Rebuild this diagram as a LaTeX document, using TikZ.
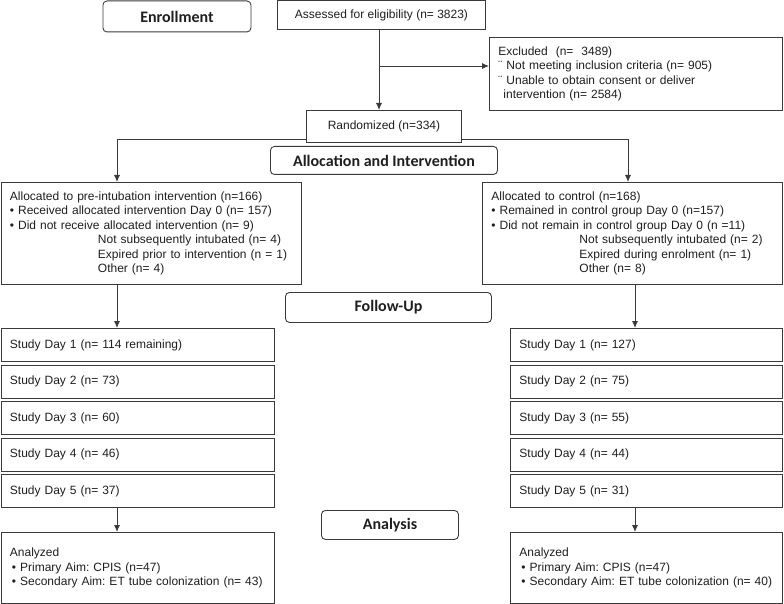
\documentclass[tikz,border=0pt]{standalone}
\usepackage{fontspec}
\setmainfont{Liberation Sans}
\newfontfamily\headfont{Carlito}
\usetikzlibrary{arrows.meta}
\definecolor{linegray}{HTML}{3A3A3A}
\definecolor{inkgray}{HTML}{1E1E1E}
\frenchspacing

\begin{document}
\begin{tikzpicture}[x=1pt, y=-1pt,
    flowbox/.style={draw=linegray, line width=0.9pt, anchor=north west, align=left,
        inner xsep=9pt, inner ysep=0pt, text=inkgray, font=\fontsize{12}{14.5}\selectfont},
    countbox/.style={draw=linegray, line width=0.9pt, anchor=north west, align=center,
        inner sep=0pt, text=inkgray, font=\fontsize{12}{14.5}\selectfont},
    stagebox/.style={draw=linegray, line width=0.9pt, rounded corners=4pt, anchor=north west,
        inner sep=0pt, text=inkgray, font=\headfont\bfseries\fontsize{16}{18}\selectfont},
    arr/.style={draw=linegray, line width=0.9pt, -{Latex[length=7pt,width=6pt]}}]
  \useasboundingbox (0,0) rectangle (784,604);

  % stage headings
  \node[stagebox, minimum width=148pt, minimum height=31pt] (enrol) at (102.5,0.5) {Enrollment};
  \node[stagebox, minimum width=227pt, minimum height=28pt] (alloc) at (270,146) {Allocation and Intervention};
  \node[stagebox, minimum width=206pt, minimum height=30pt] (follow) at (285,292) {Follow-Up};
  \node[stagebox, minimum width=137pt, minimum height=29pt] (analysis) at (321,510) {Analysis};

  % enrollment
  \node[countbox, minimum width=208pt, minimum height=29pt] (assess) at (277,0.5) {Assessed for eligibility (n= 3823)};
  \node[flowbox, text width=275pt, minimum height=73pt] (excl) at (489,37)
    {Excluded\ \ (n=\ \ 3489)\\
     ¨ Not meeting inclusion criteria (n= 905)\\
     ¨ Unable to obtain consent or deliver\\
     \hspace*{5pt}intervention (n= 2584)};
  \node[countbox, minimum width=155pt, minimum height=32pt] (rand) at (306,110) {Randomized (n=334)};

  % allocation
  \node[flowbox, text width=282pt, minimum height=102pt] (allocL) at (0.5,182)
    {Allocated to pre-intubation intervention (n=166)\\
     • Received allocated intervention Day 0 (n= 157)\\
     • Did not receive allocated intervention (n= 9)\\
     \hspace*{88pt}Not subsequently intubated (n= 4)\\
     \hspace*{88pt}Expired prior to intervention (n = 1)\\
     \hspace*{88pt}Other (n= 4)};
  \node[flowbox, text width=282pt, minimum height=102pt] (allocC) at (482,182)
    {Allocated to control (n=168)\\
     • Remained in control group Day 0 (n=157)\\
     • Did not remain in control group Day 0 (n =11)\\
     \hspace*{88pt}Not subsequently intubated (n= 2)\\
     \hspace*{88pt}Expired during enrolment (n= 1)\\
     \hspace*{88pt}Other (n= 8)};

  % follow-up
  \foreach \d/\nl/\nr in {1/114 remaining/127, 2/73/75, 3/60/55, 4/46/44, 5/37/31} {
    \node[flowbox, text width=255pt, minimum height=33pt] (dayL\d) at (0.5,328+36.5*\d-36.5) {Study Day \d\ (n= \nl)};
    \node[flowbox, text width=254pt, minimum height=33pt] (dayR\d) at (510,328+36.5*\d-36.5) {Study Day \d\ (n= \nr)};
  }

  % analysis
  \node[flowbox, text width=255pt, minimum height=71pt] (anaL) at (0.5,532)
    {Analyzed\\
     \hspace*{2pt}• Primary Aim: CPIS (n=47)\\
     \hspace*{2pt}• Secondary Aim: ET tube colonization (n= 43)};
  \node[flowbox, text width=254pt, minimum height=71pt] (anaR) at (510,532)
    {Analyzed\\
     \hspace*{2pt}• Primary Aim: CPIS (n=47)\\
     \hspace*{2pt}• Secondary Aim: ET tube colonization (n= 40)};

  % connectors
  \coordinate (splitX) at (379,66);
  \coordinate (colL) at (117,139);
  \coordinate (colR) at (628,139);
  \coordinate (colR2) at (635,300);
  \draw[arr] (assess.south -| splitX) -- (rand.north -| splitX);
  \draw[arr] (splitX) -- (splitX -| excl.west);
  \draw[arr] (rand.west |- colL) -- (colL) -- (colL |- allocL.north);
  \draw[arr] (rand.east |- colR) -- (colR) -- (colR |- allocC.north);
  \draw[arr] (allocL.south -| colL) -- (dayL1.north -| colL);
  \draw[arr] (allocC.south -| colR2) -- (dayR1.north -| colR2);
  \draw[arr] (dayL5.south -| colL) -- (anaL.north -| colL);
  \draw[arr] (dayR5.south -| colR2) -- (anaR.north -| colR2);
\end{tikzpicture}
\end{document}
